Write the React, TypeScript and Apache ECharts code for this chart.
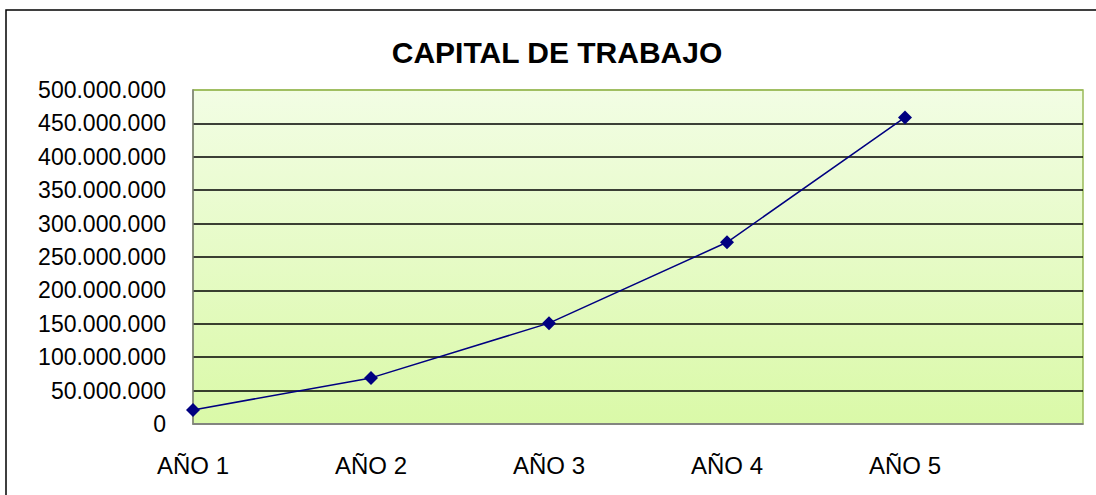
import React, { useEffect, useRef } from "react";
import * as echarts from "echarts";

const title = "CAPITAL DE TRABAJO";
const categories = ["AÑO 1", "AÑO 2", "AÑO 3", "AÑO 4", "AÑO 5", ""];
const values = [21000000, 69000000, 151000000, 272000000, 459000000];
const yMin = 0;
const yMax = 500000000;
const yInterval = 50000000;

function fmt(v: number): string {
  return String(Math.round(v)).replace(/\B(?=(\d{3})+(?!\d))/g, ".");
}

export default function App() {
  const ref = useRef<HTMLDivElement>(null);
  useEffect(() => {
    if (!ref.current) return;
    const chart = echarts.init(ref.current, undefined, { renderer: "svg" });
    const splitColors = ["#808080", "#000", "#000", "#000", "#000", "#000", "#000", "#000", "#000", "#000", "#9BBB59"];
    chart.setOption({
      animation: false,
      backgroundColor: "#fff",
      title: {
        text: title,
        left: 552,
        textAlign: "center",
        top: 32,
        textStyle: { fontFamily: "Liberation Sans, Arial", fontSize: 30, fontWeight: "bold", color: "#000" },
      },
      graphic: [
        {
          type: "rect",
          shape: { x: 6, y: 10, width: 1200, height: 600 },
          style: { fill: "none", stroke: "#000", lineWidth: 1.5 },
          z: 100,
        },
      ],
      grid: {
        left: 193,
        top: 90,
        right: 13,
        bottom: 71,
        show: true,
        borderColor: "#9BBB59",
        borderWidth: 1.5,
        backgroundColor: new echarts.graphic.LinearGradient(0, 0, 0, 1, [
          { offset: 0, color: "#F2FDE4" },
          { offset: 1, color: "#DAF9A8" },
        ]),
      },
      xAxis: {
        type: "category",
        data: categories,
        boundaryGap: false,
        axisLine: { show: true, lineStyle: { color: "#808080", width: 1.5 } },
        axisTick: { show: false },
        axisLabel: {
          color: "#000",
          fontFamily: "Liberation Sans, Arial",
          fontSize: 24,
          margin: 29,
        },
        splitLine: { show: false },
      },
      yAxis: {
        type: "value",
        min: yMin,
        max: yMax,
        interval: yInterval,
        axisLine: { show: true, lineStyle: { color: "#808080", width: 1.5 } },
        axisTick: { show: false },
        axisLabel: {
          color: "#000",
          fontFamily: "Liberation Sans, Arial",
          fontSize: 23,
          margin: 27,
          formatter: (v: number) => fmt(v),
        },
        splitLine: { show: true, lineStyle: { color: splitColors, width: 1.5 } },
      },
      series: [
        {
          type: "line",
          data: values,
          symbol: "diamond",
          symbolSize: 14,
          lineStyle: { color: "#000080", width: 1.5 },
          itemStyle: { color: "#000080" },
        },
      ],
    });
    return () => chart.dispose();
  }, []);
  return (
    <div
      ref={ref}
      style={{ position: "absolute", left: 0, top: 0, width: 1096, height: 495 }}
    />
  );
}
